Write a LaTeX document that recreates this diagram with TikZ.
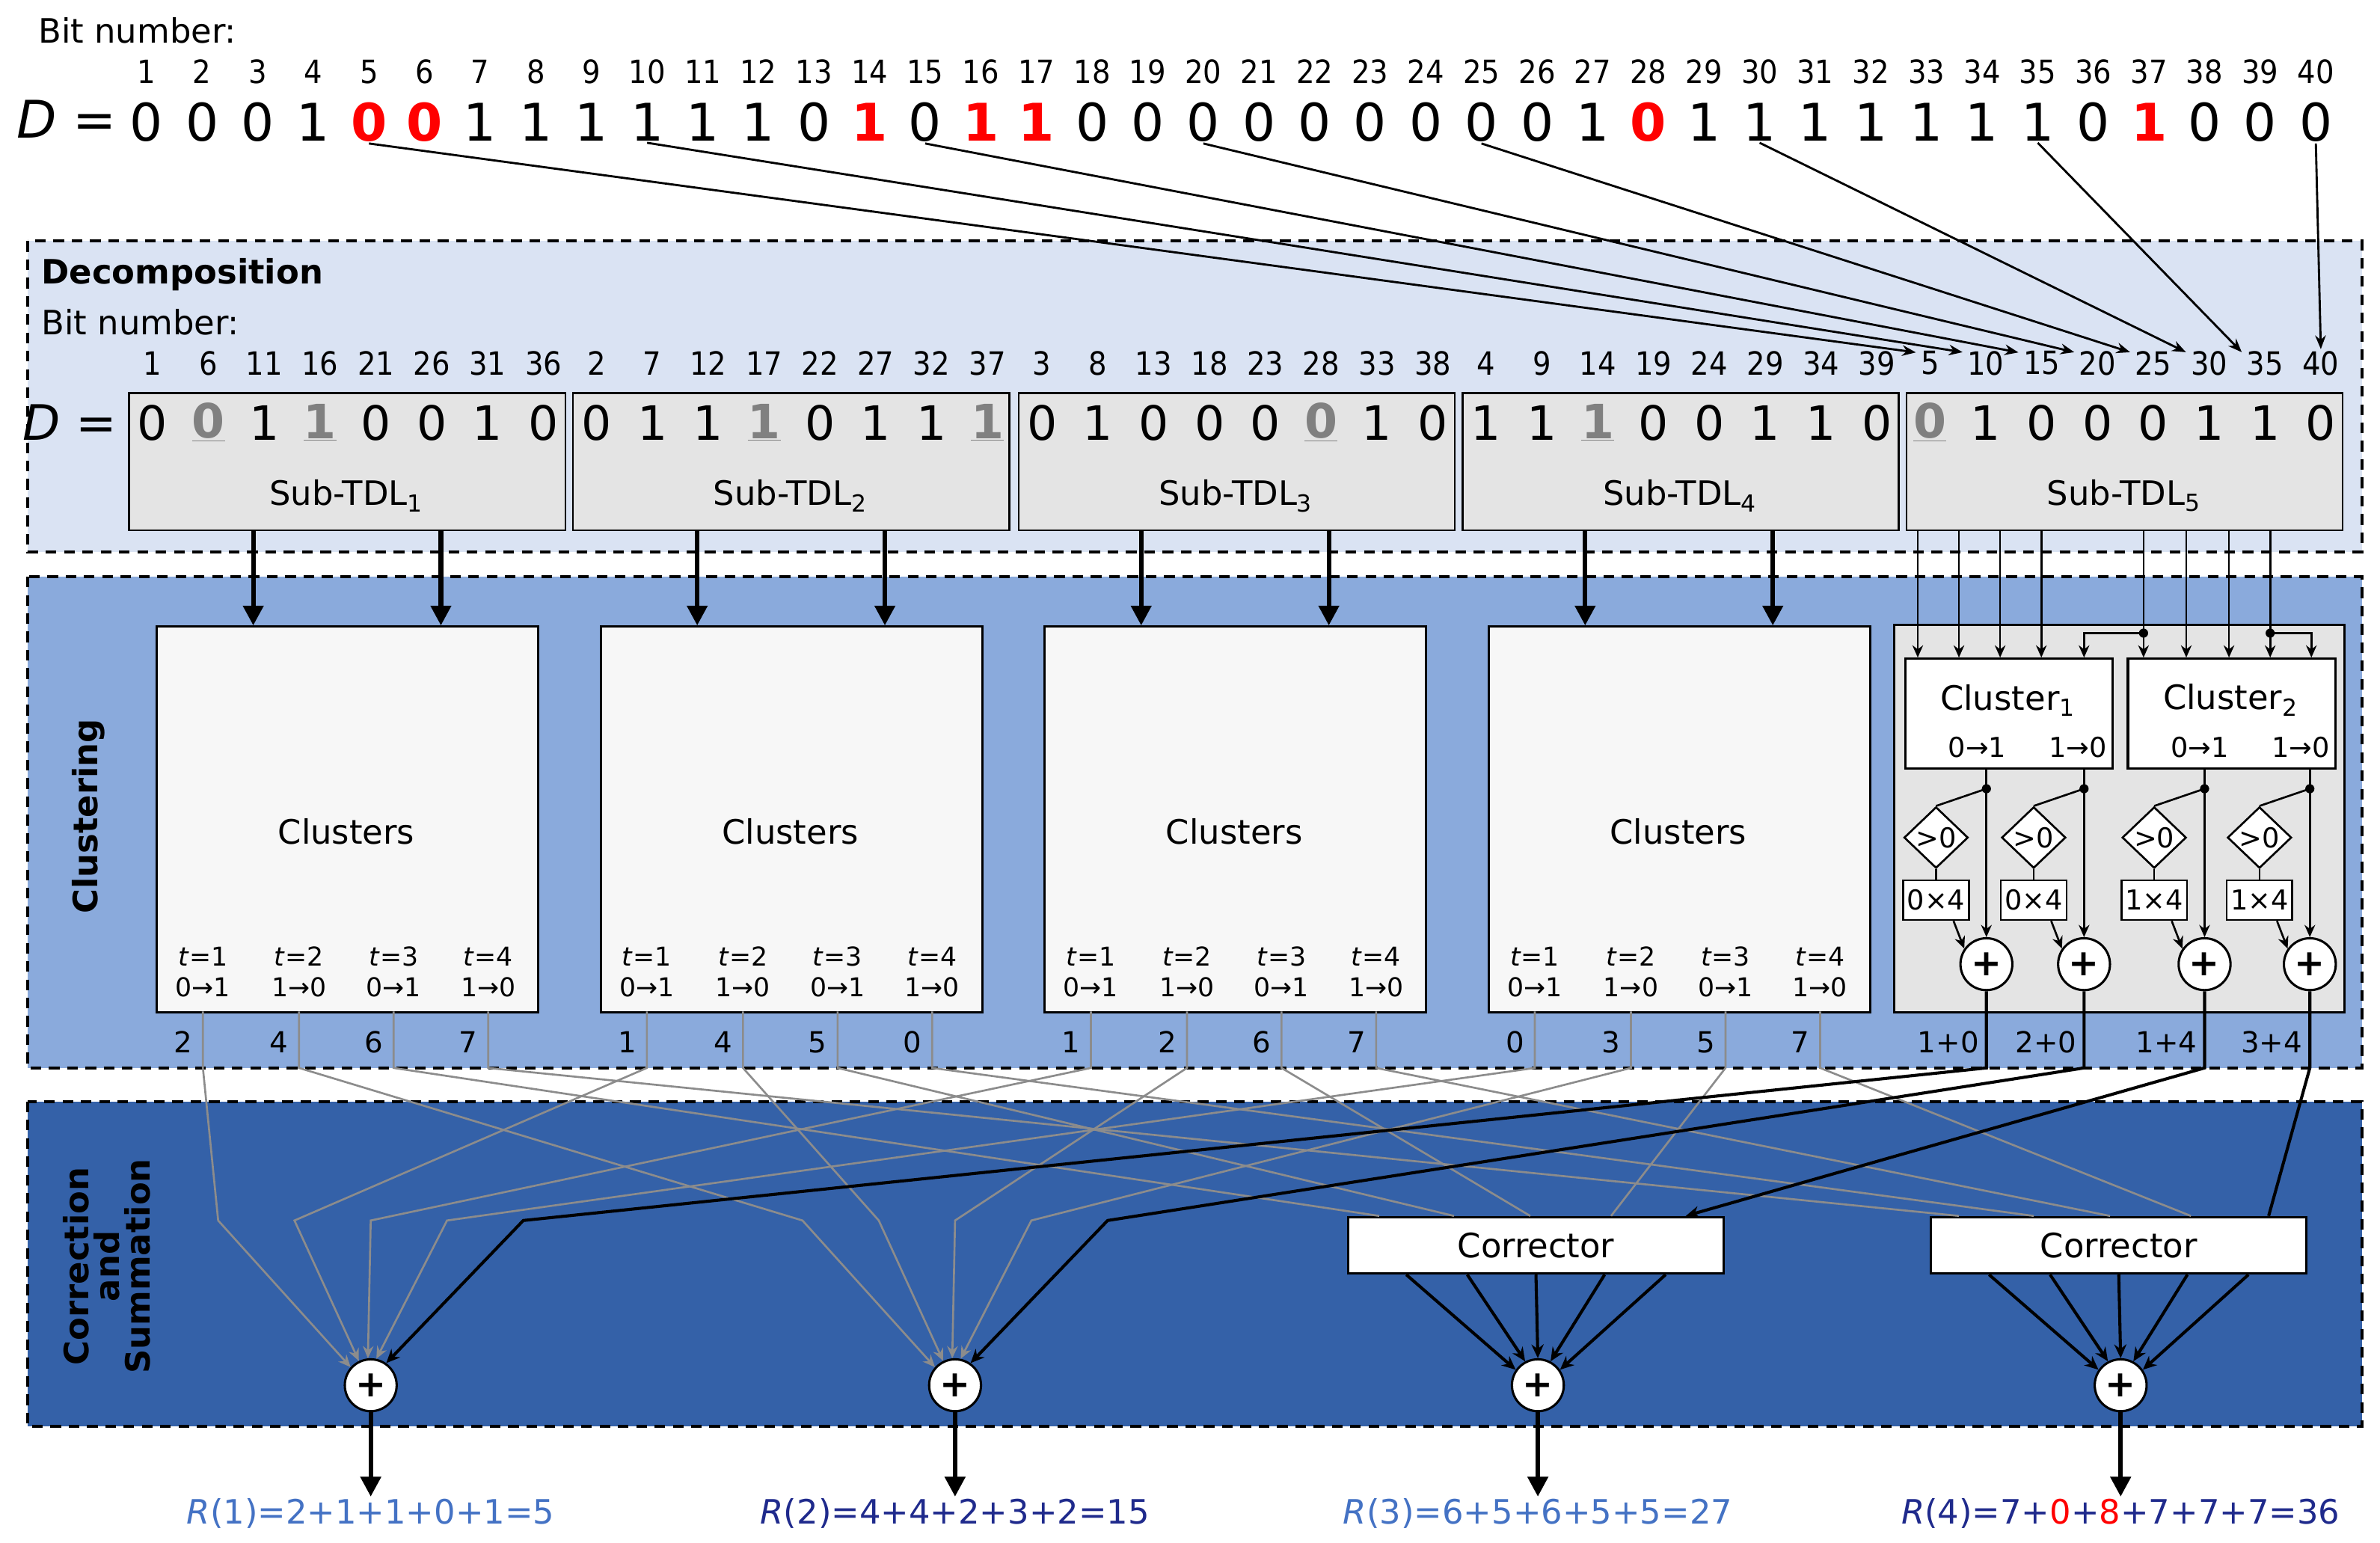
\documentclass[tikz,border=0pt]{standalone}
\usepackage{fontspec}
\setmainfont{DejaVu Sans}
\newfontfamily\cond{DejaVu Sans Condensed}
\usetikzlibrary{arrows.meta,calc,shapes.geometric}
\definecolor{decbg}{HTML}{DAE3F3}
\definecolor{clubg}{HTML}{8AAADC}
\definecolor{corbg}{HTML}{3461A8}
\definecolor{tdlgray}{HTML}{E4E4E4}
\definecolor{wire}{HTML}{8C8C8C}
\definecolor{bitred}{HTML}{FF0000}
\definecolor{rlight}{HTML}{4472C4}
\definecolor{rdark}{HTML}{1F2A8C}
\newcommand{\fs}[1]{\fontsize{#1}{#1}\selectfont}
\def\gmark{g}
\begin{document}
\begin{tikzpicture}[x=1pt,y=-1pt,
  region/.style={draw=black,line width=2pt,dash pattern=on 7pt off 5pt},
  num/.style={font=\cond\fs{21},inner sep=1pt},
  dig/.style={font=\fs{34},inner sep=1pt},
  nb/.style={},
  rb/.style={text=bitred,font=\fs{34}\bfseries},
  sdig/.style={font=\fs{31},inner sep=1pt},
  sg/.style={text=black!50,font=\fs{31}\bfseries},
  tdl/.style={draw,line width=1.2pt,fill=tdlgray,anchor=north west,minimum height=90pt,minimum width=286pt,inner sep=0},
  clbox/.style={draw,line width=1.5pt,fill=black!3,anchor=north west,minimum height=253pt,minimum width=250pt,inner sep=0},
  small/.style={font=\fs{17},inner sep=0pt},
  lab/.style={font=\fs{22},inner sep=1pt},
  topar/.style={line width=1.4pt,-{Stealth[length=9pt,width=7pt]}},
  bigar/.style={line width=3pt,-{Triangle[length=13pt,width=13pt]}},
  thin/.style={line width=1.3pt},
  thinar/.style={line width=1.3pt,-{Stealth[length=8pt,width=7pt]}},
  greyw/.style={draw=wire,line width=1.3pt},
  blk/.style={line width=2pt},
  plus/.style={circle,draw,line width=1.5pt,fill=white,minimum size=34pt,inner sep=0pt,font=\fs{24}\bfseries},
  dot/.style={circle,fill=black,inner sep=0pt,minimum size=6pt},
]
\useasboundingbox (0,0) rectangle (1560,1011);
% regions
\fill[white] (0,0) rectangle (1560,1011);
\draw[region,fill=decbg] (18,158) rectangle (1548,362);
\draw[region,fill=clubg] (18,378) rectangle (1548,700);
\draw[region,fill=corbg] (18,722) rectangle (1548,935);

\node[lab,anchor=west] (bn0) at (24,20) {Bit number:};
\node[font=\fs{34},anchor=east] (Deq) at (80,78) {\textit{D} =};
\foreach \v/\c [count=\i] in {0/nb,0/nb,0/nb,1/nb,0/rb,0/rb,1/nb,1/nb,1/nb,1/nb,1/nb,1/nb,0/nb,1/rb,0/nb,1/rb,1/rb,0/nb,0/nb,0/nb,0/nb,0/nb,0/nb,0/nb,0/nb,0/nb,1/nb,0/rb,1/nb,1/nb,1/nb,1/nb,1/nb,1/nb,1/nb,0/nb,1/rb,0/nb,0/nb,0/nb}{
  \pgfmathsetmacro\xx{96+(\i-1)*36.46}
  \node[num] (n\i) at (\xx,47) {\i};
  \node[dig,\c] (b\i) at (\xx,80) {\v};
}

\node[lab,anchor=west,font=\fs{22}\bfseries] (dec) at (26,180) {Decomposition};
\node[lab,anchor=west] (bn1) at (26,211) {Bit number:};
\node[font=\fs{32},anchor=east] (Deq2) at (80,277) {\textit{D} =};

\foreach \j/\L in {1/84,2/375,3/667,4/958,5/1249}{
  \node[tdl] (T\j) at (\L,257) {};
  \node[lab] (TL\j) at (\L+143,325) {Sub-TDL\textsubscript{\j}};
}
\newcommand{\tdlrow}[3]{%
  \foreach \v/\s [count=\k] in {#3}{
    \pgfmathtruncatemacro\bit{#1+5*(\k-1)}
    \pgfmathsetmacro\xx{#2+16+(\k-1)*36.6}
    \node[num] (m\bit) at (\xx,238) {\bit};
    \ifx\s\gmark
      \node[sdig,sg] (e\bit) at (\xx,277) {\underline{\v}};
    \else
      \node[sdig] (e\bit) at (\xx,277) {\v};
    \fi
  }}
\tdlrow{1}{84}{0/n,0/g,1/n,1/g,0/n,0/n,1/n,0/n}
\tdlrow{2}{375}{0/n,1/n,1/n,1/g,0/n,1/n,1/n,1/g}
\tdlrow{3}{667}{0/n,1/n,0/n,0/n,0/n,0/g,1/n,0/n}
\tdlrow{4}{958}{1/n,1/n,1/g,0/n,0/n,1/n,1/n,0/n}
\tdlrow{5}{1249}{0/g,1/n,0/n,0/n,0/n,1/n,1/n,0/n}

% arrows from D to sub-TDL5 numbers
\foreach \i in {5,10,15,20,25,30,35}{
  \draw[topar] (b\i.south) -- ($(m\i.north west)+(-2,2)$);
}
\draw[topar] (b40.south) -- (m40.north);

% Clustering
\node[font=\fs{22}\bfseries,rotate=90] (clu) at (58,535) {Clustering};
\node[font=\fs{22}\bfseries,rotate=90,align=center] (cor) at (70,830) {Correction\\[-2pt]and\\[-2pt]Summation};

\foreach \b/\va/\vb/\vc/\vd in {1/2/4/6/7,2/1/4/5/0,3/1/2/6/7,4/0/3/5/7}{
  \pgfmathsetmacro\L{102+291*(\b-1)}
  \node[clbox] (C\b) at (\L,410) {};
  \node[lab] (CL\b) at (\L+125,545) {Clusters};
  \coordinate (ia\b) at (\L+64,410);
  \coordinate (ib\b) at (\L+187,410);
  \draw[bigar] (ia\b |- T\b.south) -- (ia\b);
  \draw[bigar] (ib\b |- T\b.south) -- (ib\b);
  \foreach \t/\off/\tr/\val in {1/31/0→1/\va,2/94/1→0/\vb,3/156/0→1/\vc,4/218/1→0/\vd}{
    \node[small] (tt\b-\t) at (\L+\off,627) {\textit{t}=\t};
    \node[small] (tr\b-\t) at (\L+\off,647) {\tr};
    \coordinate (o\b-\t) at (\L+\off,663);
    \coordinate (v\b-\t) at (\L+\off,700);
    \node[lab,font=\fs{19}] (val\b-\t) at (\L+\off-13,683) {\val};
  }
}

% Sub-TDL5 clustering
\node[draw,line width=1.5pt,fill=tdlgray,anchor=north west,minimum width=295pt,minimum height=254pt,inner sep=0] (G) at (1241,409) {};
\node[draw,line width=1.5pt,fill=white,anchor=north west,minimum width=136pt,minimum height=72pt,inner sep=0] (K1) at (1248,431) {};
\node[draw,line width=1.5pt,fill=white,anchor=north west,minimum width=136pt,minimum height=72pt,inner sep=0] (K2) at (1394,431) {};
\node[lab] (K1t) at (1316,459) {Cluster\textsubscript{1}};
\node[small,font=\fs{18}] (K1a) at (1296,490) {0→1};
\node[small,font=\fs{18}] (K1b) at (1362,490) {1→0};
\node[lab] (K2t) at (1462,459) {Cluster\textsubscript{2}};
\node[small,font=\fs{18}] (K2a) at (1442,490) {0→1};
\node[small,font=\fs{18}] (K2b) at (1508,490) {1→0};
\foreach \x in {1257,1284,1311,1338}{
  \draw[thinar] (\x,0 |- T5.south) -- (\x,0 |- K1.north);
}
\foreach \x in {1405,1433,1461,1488}{
  \draw[thinar] (\x,0 |- T5.south) -- (\x,0 |- K2.north);
}
\node[dot] (bd1) at (1405,415) {};
\node[dot] (bd2) at (1488,415) {};
\draw[thinar] (bd1.center) -- (1366,415) -- (1366,0 |- K1.north);
\draw[thinar] (bd2.center) -- (1515,415) -- (1515,0 |- K2.north);

\foreach \c/\M/\K/\fac/\res in {1/1302/K1/0/1+0,2/1366/K1/0/2+0,3/1445/K2/1/1+4,4/1514/K2/1/3+4}{
  \node[dot] (cd\c) at (\M,517) {};
  \node[diamond,draw,line width=1.3pt,fill=white,minimum width=42pt,minimum height=40pt,inner sep=0pt,font=\fs{18}] (dm\c) at (\M-33,549) {>0};
  \node[draw,line width=1.3pt,fill=white,minimum width=43pt,minimum height=26pt,inner sep=0pt,font=\fs{18}] (mx\c) at (\M-33,590) {\fac×4};
  \node[plus] (P\c) at (\M,632) {+};
  \draw[thin] (\M,0 |- \K.south) -- (cd\c.center);
  \draw[thinar] (cd\c.center) -- (P\c.north);
  \draw[thin] (cd\c.center) -- (dm\c.north);
  \draw[thin] (dm\c.south) -- (mx\c.north);
  \draw[thinar] (mx\c.-50) -- (P\c.145);
  \coordinate (pv\c) at (\M,700);
  \node[lab,font=\fs{19}] (res\c) at (\M-25,683) {\res};
}

% Correction and summation
\node[plus] (S1) at (243,908) {+};
\node[plus] (S2) at (626,908) {+};
\node[plus] (S3) at (1008,908) {+};
\node[plus] (S4) at (1390,908) {+};
\node[draw,line width=1.5pt,fill=white,anchor=north west,minimum width=246pt,minimum height=37pt,inner sep=0,font=\fs{22}] (CR1) at (883,797) {Corrector};
\node[draw,line width=1.5pt,fill=white,anchor=north west,minimum width=246pt,minimum height=37pt,inner sep=0,font=\fs{22}] (CR2) at (1265,797) {Corrector};

% grey wires
\foreach \b/\ang in {1/138,2/116,3/96,4/78}{
  \draw[greyw,-{Stealth[length=8pt,width=7pt]}] (o\b-1) -- (v\b-1) -- ($(S1)+(-150+50*\b,-108)$) -- (S1.\ang);
  \draw[greyw,-{Stealth[length=8pt,width=7pt]}] (o\b-2) -- (v\b-2) -- ($(S2)+(-150+50*\b,-108)$) -- (S2.\ang);
}
\foreach \b/\dx in {1/21,2/70,3/120,4/173}{
  \draw[greyw] (o\b-3) -- (v\b-3) -- ($(CR1.north west)+(\dx,0)$);
  \draw[greyw] (o\b-4) -- (v\b-4) -- ($(CR2.north west)+(\dx-2,0)$);
}
% black wires
\draw[blk,-{Stealth[length=9pt,width=8pt]}] (P1.south) -- (pv1) -- ($(S1)+(100,-108)$) -- (S1.55);
\draw[blk,-{Stealth[length=9pt,width=8pt]}] (P2.south) -- (pv2) -- ($(S2)+(100,-108)$) -- (S2.55);
\draw[blk,-{Stealth[length=9pt,width=8pt]}] (P3.south) -- (pv3) -- ($(CR1.north west)+(222,0)$);
\draw[blk] (P4.south) -- (pv4) -- ($(CR2.north west)+(222,0)$);

% corrector to summers
\foreach \dx/\ang in {-85/145,-45/118,0/90,45/62,85/35}{
  \draw[blk,-{Stealth[length=9pt,width=8pt]}] ($(CR1.south)+(\dx,0)$) -- (S3.\ang);
  \draw[blk,-{Stealth[length=9pt,width=8pt]}] ($(CR2.south)+(\dx,0)$) -- (S4.\ang);
}

% results
\node[lab,text=rlight] (R1) at (243,992) {\textit{R}(1)=2+1+1+0+1=5};
\node[lab,text=rdark] (R2) at (626,992) {\textit{R}(2)=4+4+2+3+2=15};
\node[lab,text=rlight] (R3) at (1008,992) {\textit{R}(3)=6+5+6+5+5=27};
\node[lab,text=rdark] (R4) at (1390,992) {\textit{R}(4)=7+\textcolor{bitred}{0}+\textcolor{bitred}{8}+7+7+7=36};
\foreach \i in {1,2,3,4}{
  \draw[bigar] (S\i.south) -- (R\i.north);
}
\end{tikzpicture}
\end{document}
